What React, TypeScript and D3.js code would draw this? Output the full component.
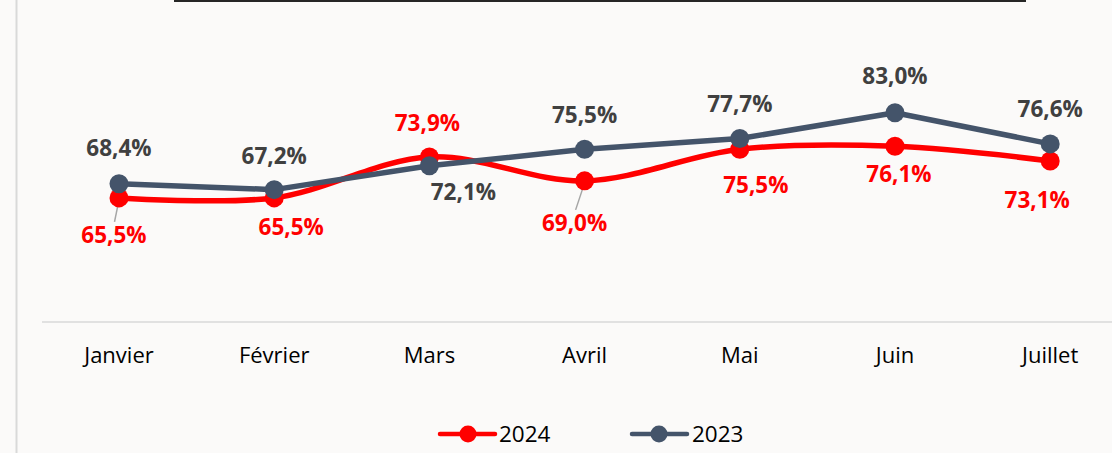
import React from 'react'
import * as d3 from 'd3'

const months = ['Janvier', 'Février', 'Mars', 'Avril', 'Mai', 'Juin', 'Juillet']
const values2024 = [65.5, 65.5, 73.9, 69.0, 75.5, 76.1, 73.1]
const values2023 = [68.4, 67.2, 72.1, 75.5, 77.7, 83.0, 76.6]

// label placement (offset from the point), as the source chart had them moved by hand
const offsets2024: [number, number][] = [[-5, 37], [17, 29], [-2, -35], [-10, 42], [16, 35], [4, 27], [-13, 39]]
const offsets2023: [number, number][] = [[0, -36], [0, -34], [34, 26], [0, -35], [0, -35], [0, -37], [0, -35]]

const W = 1112
const H = 453
const RED = '#FF0000'
const GREY = '#44546A'
const FONT = '"Open Sans", "Noto Sans", sans-serif'

const fmt = (v: number) => d3.format('.1f')(v).replace('.', ',') + '%'

export default function App() {
  const x = d3.scalePoint<string>().domain(months).range([41.4, 1127.8]).padding(0.5)
  const y = d3.scaleLinear().domain([40, 100]).range([322, 30])

  const smooth = d3.line<number>()
    .x((_, i) => x(months[i])!)
    .y(d => y(d))
    .curve(d3.curveCatmullRom.alpha(0.5))
  const straight = d3.line<number>()
    .x((_, i) => x(months[i])!)
    .y(d => y(d))

  return (
    <div style={{ position: 'absolute', left: 0, top: 0 }}>
      <svg width={W} height={H} style={{ display: 'block', fontFamily: FONT }}>
        <rect width={W} height={H} fill='#FBFAF9' />
        <line x1={16.5} x2={16.5} y1={0} y2={H} stroke='#D9D9D9' strokeWidth={2} />
        <line x1={174} x2={1026} y1={1} y2={1} stroke='#262626' strokeWidth={2} />

        {/* category axis */}
        <line x1={42} x2={W} y1={322} y2={322} stroke='#D9D9D9' strokeWidth={1.5} />
        {months.map(m => (
          <text key={m} x={x(m)} y={363} textAnchor='middle' fontSize={22} fill='#000'>{m}</text>
        ))}

        {/* leader lines */}
        {[0, 3].map(i => {
          const px = x(months[i])!, py = y(values2024[i])
          const [dx, dy] = offsets2024[i]
          return <line key={'ll' + i} x1={px} y1={py + 2} x2={px + dx * 0.9} y2={py + dy - 13}
            stroke='#A6A6A6' strokeWidth={1.5} />
        })}

        {/* 2024 */}
        <path d={smooth(values2024) ?? ''} fill='none' stroke={RED} strokeWidth={5.5} strokeLinecap='round' />
        {values2024.map((v, i) => (
          <circle key={'r' + i} cx={x(months[i])} cy={y(v)} r={9.5} fill={RED} />
        ))}

        {/* 2023 */}
        <path d={straight(values2023) ?? ''} fill='none' stroke={GREY} strokeWidth={5.5} strokeLinecap='round' strokeLinejoin='round' />
        {values2023.map((v, i) => (
          <circle key={'g' + i} cx={x(months[i])} cy={y(v)} r={9.5} fill={GREY} />
        ))}

        {/* labels */}
        {values2024.map((v, i) => (
          <text key={'rl' + i} x={x(months[i])! + offsets2024[i][0]} y={y(v) + offsets2024[i][1]}
            textAnchor='middle' dominantBaseline='central' fontSize={22.5} fontWeight='bold' fill={RED}>{fmt(v)}</text>
        ))}
        {values2023.map((v, i) => (
          <text key={'gl' + i} x={x(months[i])! + offsets2023[i][0]} y={y(v) + offsets2023[i][1]}
            textAnchor='middle' dominantBaseline='central' fontSize={22.5} fontWeight='bold' fill='#404040'>{fmt(v)}</text>
        ))}

        {/* legend */}
        <g>
          <line x1={440} x2={495} y1={434} y2={434} stroke={RED} strokeWidth={4.5} strokeLinecap='round' />
          <circle cx={468} cy={434} r={8.5} fill={RED} />
          <text x={499} y={442} fontSize={22.5} fill='#000'>2024</text>
          <line x1={632} x2={687} y1={434} y2={434} stroke={GREY} strokeWidth={4.5} strokeLinecap='round' />
          <circle cx={659} cy={434} r={8.5} fill={GREY} />
          <text x={692} y={442} fontSize={22.5} fill='#000'>2023</text>
        </g>
      </svg>
    </div>
  )
}
